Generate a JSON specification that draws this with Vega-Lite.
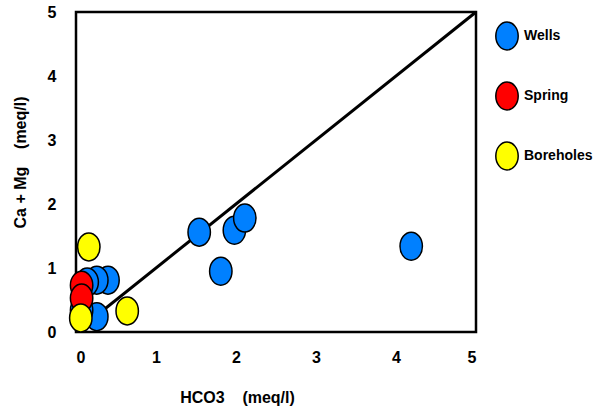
{
  "$schema": "https://vega.github.io/schema/vega-lite/v6.json",
  "width": 400,
  "height": 320,
  "autosize": {"type": "none"},
  "padding": {"left": 76, "top": 12, "right": 119, "bottom": 78},
  "background": "white",
  "config": {
    "view": {"stroke": "black", "strokeWidth": 2.5},
    "font": "Liberation Sans, sans-serif",
    "axis": {
      "domain": false,
      "ticks": false,
      "grid": false,
      "labelFont": "Liberation Sans, sans-serif",
      "labelFontSize": 16,
      "labelFontWeight": "bold",
      "labelColor": "black",
      "titleFont": "Liberation Sans, sans-serif",
      "titleFontSize": 16,
      "titleFontWeight": "bold",
      "titleColor": "black"
    }
  },
  "datasets": {
    "pts": [
      {"hco3": 1.54, "camg": 1.56, "type": "Wells"},
      {"hco3": 1.98, "camg": 1.59, "type": "Wells"},
      {"hco3": 2.11, "camg": 1.78, "type": "Wells"},
      {"hco3": 1.81, "camg": 0.95, "type": "Wells"},
      {"hco3": 4.19, "camg": 1.34, "type": "Wells"},
      {"hco3": 0.40, "camg": 0.81, "type": "Wells"},
      {"hco3": 0.26, "camg": 0.81, "type": "Wells"},
      {"hco3": 0.14, "camg": 0.78, "type": "Wells"},
      {"hco3": 0.26, "camg": 0.24, "type": "Wells"},
      {"hco3": 0.07, "camg": 0.34, "type": "Wells"},
      {"hco3": 0.07, "camg": 0.73, "type": "Spring"},
      {"hco3": 0.07, "camg": 0.53, "type": "Spring"},
      {"hco3": 0.16, "camg": 1.33, "type": "Boreholes"},
      {"hco3": 0.64, "camg": 0.33, "type": "Boreholes"},
      {"hco3": 0.06, "camg": 0.22, "type": "Boreholes"}
    ],
    "diag": [
      {"hco3": 0, "camg": 0},
      {"hco3": 5, "camg": 5}
    ]
  },
  "layer": [
    {
      "data": {"name": "diag"},
      "mark": {"type": "line", "color": "black", "strokeWidth": 3},
      "encoding": {
        "x": {"field": "hco3", "type": "quantitative"},
        "y": {"field": "camg", "type": "quantitative"}
      }
    },
    {
      "data": {"name": "pts"},
      "mark": {
        "type": "point",
        "filled": true,
        "opacity": 1,
        "stroke": "black",
        "strokeWidth": 1.5,
        "size": 784,
        "shape": "M -0.8,0 A 0.8,1 0 1,0 0.8,0 A 0.8,1 0 1,0 -0.8,0 Z"
      },
      "encoding": {
        "x": {
          "field": "hco3",
          "type": "quantitative",
          "scale": {"domain": [0, 5], "nice": false, "zero": false},
          "axis": {
            "values": [0, 1, 2, 3, 4, 5],
            "format": "d",
            "labelPadding": 17,
            "title": "HCO3\u00a0\u00a0\u00a0\u00a0(meq/l)",
            "titleX": 161,
            "titleY": 65,
            "titleBaseline": "middle"
          }
        },
        "y": {
          "field": "camg",
          "type": "quantitative",
          "scale": {"domain": [0, 5], "nice": false, "zero": false},
          "axis": {
            "values": [0, 1, 2, 3, 4, 5],
            "format": "d",
            "labelPadding": 20,
            "title": "Ca + Mg\u00a0\u00a0\u00a0\u00a0(meq/l)",
            "titleX": -56,
            "titleY": 150,
            "titleBaseline": "middle",
            "titleAngle": -90
          }
        },
        "fill": {
          "field": "type",
          "type": "nominal",
          "scale": {
            "domain": ["Wells", "Spring", "Boreholes"],
            "range": ["#0080FF", "#FF0000", "#FFFF00"]
          },
          "legend": {
            "title": null,
            "orient": "none",
            "legendX": 416,
            "legendY": 9,
            "symbolSize": 784,
            "symbolType": "M -0.8,0 A 0.8,1 0 1,0 0.8,0 A 0.8,1 0 1,0 -0.8,0 Z",
            "symbolStrokeColor": "black",
            "symbolStrokeWidth": 1.5,
            "symbolOpacity": 1,
            "rowPadding": 26,
            "labelFontSize": 14,
            "labelFontWeight": "bold",
            "labelColor": "black",
            "labelFont": "Liberation Sans, sans-serif",
            "labelOffset": 2,
            "labelLimit": 200
          }
        }
      }
    }
  ]
}
